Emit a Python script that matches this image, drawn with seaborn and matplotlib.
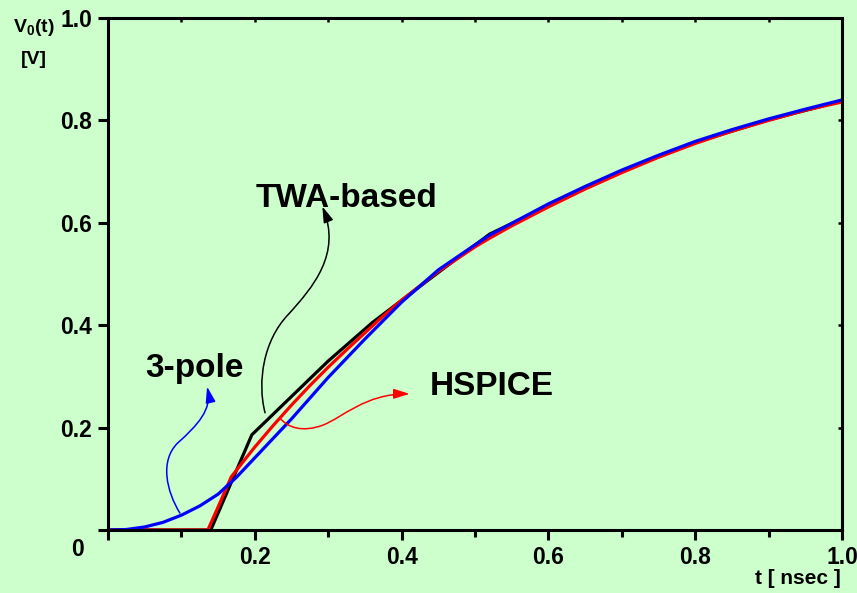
import matplotlib
matplotlib.use("Agg")
import matplotlib.pyplot as plt
import seaborn as sns
import pandas as pd
from matplotlib.path import Path
from matplotlib.patches import FancyArrowPatch

# HSPICE reference response
t_hspice = [0, 0.136, 0.15, 0.168, 0.185, 0.2, 0.225, 0.25, 0.275, 0.3, 0.325, 0.35,
            0.375, 0.4, 0.45, 0.5, 0.52, 0.55, 0.6, 0.65, 0.7, 0.75, 0.8, 0.85, 0.9,
            0.95, 1.0]
v_hspice = [0, 0, 0.045, 0.104, 0.135, 0.162, 0.204, 0.244, 0.282, 0.318, 0.352, 0.385,
            0.418, 0.449, 0.505, 0.553, 0.57, 0.594, 0.631, 0.666, 0.698, 0.728, 0.755,
            0.779, 0.8, 0.82, 0.836]

# 3-pole approximation
t_pole = [0, 0.025, 0.05, 0.075, 0.1, 0.125, 0.15, 0.175, 0.2, 0.25, 0.3, 0.35, 0.4,
          0.45, 0.5, 0.52, 0.55, 0.6, 0.65, 0.7, 0.75, 0.8, 0.85, 0.9, 0.95, 1.0]
v_pole = [0, 0.001, 0.006, 0.015, 0.029, 0.047, 0.07, 0.103, 0.141, 0.217, 0.298, 0.373,
          0.445, 0.508, 0.557, 0.576, 0.599, 0.637, 0.671, 0.703, 0.732, 0.759, 0.782,
          0.803, 0.822, 0.84]

# TWA-based (piecewise linear)
t_twa = [0, 0.14, 0.196, 0.3, 0.36, 0.45, 0.52, 0.6, 0.7, 0.8, 0.9, 1.0]
v_twa = [0, 0, 0.186, 0.33, 0.405, 0.503, 0.578, 0.633, 0.701, 0.757, 0.801, 0.838]

x_ticks = [0.2, 0.4, 0.6, 0.8, 1.0]
y_ticks = [0.2, 0.4, 0.6, 0.8, 1.0]

bg = "#ccffcc"

sns.set_style("ticks")
plt.rcParams["font.family"] = ["Liberation Sans", "DejaVu Sans"]
plt.rcParams["font.weight"] = "bold"
plt.rcParams["text.color"] = "black"
plt.rcParams["xtick.color"] = "black"
plt.rcParams["ytick.color"] = "black"
plt.rcParams["mathtext.fontset"] = "custom"
plt.rcParams["mathtext.rm"] = "Liberation Sans:bold"
plt.rcParams["mathtext.bf"] = "Liberation Sans:bold"

fig = plt.figure(figsize=(8.57, 5.93), dpi=100, facecolor=bg)
ax = fig.add_axes([0.126, 0.1062, 0.8565, 0.8634])
ax.set_facecolor(bg)

df_twa = pd.DataFrame({"t": t_twa, "v": v_twa})
df_hspice = pd.DataFrame({"t": t_hspice, "v": v_hspice})
df_pole = pd.DataFrame({"t": t_pole, "v": v_pole})

sns.lineplot(data=df_twa, x="t", y="v", color="black", lw=2.3, ax=ax, sort=False)
sns.lineplot(data=df_hspice, x="t", y="v", color="#ff0000", lw=2.3, ax=ax, sort=False)
sns.lineplot(data=df_pole, x="t", y="v", color="#0000ff", lw=2.3, ax=ax, sort=False)

ax.set_xlim(0, 1.0)
ax.set_ylim(0, 1.0)
ax.set_xlabel("")
ax.set_ylabel("")

for side in ["left", "right", "top", "bottom"]:
    ax.spines[side].set_visible(True)
    ax.spines[side].set_linewidth(2.2)
    ax.spines[side].set_color("black")

# bottom / left: outward ticks with labels
ax.set_xticks([0] + x_ticks)
ax.set_xticklabels([""] + ["%.1f" % v for v in x_ticks])
ax.set_xticks([0.1, 0.3, 0.5, 0.7, 0.9], minor=True)
ax.set_yticks([0] + y_ticks)
ax.set_yticklabels([""] + ["%.1f" % v for v in y_ticks])
ax.tick_params(axis="both", which="major", direction="out", length=7.5, width=2.2,
               labelsize=16.5, pad=4, colors="black")
ax.tick_params(axis="x", which="minor", direction="out", length=5, width=2.2)

# top / right: short inward ticks
ax_top = ax.secondary_xaxis("top")
ax_top.set_xticks([0.1 * i for i in range(1, 10)])
ax_top.set_xticklabels([])
ax_top.tick_params(direction="in", length=3, width=1.8)
ax_top.spines["top"].set_visible(False)
ax_right = ax.secondary_yaxis("right")
ax_right.set_yticks([0.2, 0.4, 0.6, 0.8])
ax_right.set_yticklabels([])
ax_right.tick_params(direction="in", length=3, width=1.8)
ax_right.spines["right"].set_visible(False)

# origin label and axis titles
fig.text(77 / 857, 1 - 549 / 593, "0", fontsize=16.5, fontweight="bold",
         ha="center", va="center")
fig.text(34 / 857, 1 - 28 / 593, r"V$_0$(t)", fontsize=14, fontweight="bold",
         ha="center", va="center")
fig.text(34 / 857, 1 - 60 / 593, "[V]", fontsize=14, fontweight="bold",
         ha="center", va="center")
fig.text(841 / 857, 1 - 578 / 593, "t [ nsec ]", fontsize=15, fontweight="bold",
         ha="right", va="center")

# curve labels
ax.text(0.2016, 0.631, "TWA-based", fontsize=24, fontweight="bold", ha="left", va="baseline")
ax.text(0.4387, 0.264, "HSPICE", fontsize=24, fontweight="bold", ha="left", va="baseline")
ax.text(0.0504, 0.299, "3-pole", fontsize=24, fontweight="bold", ha="left", va="baseline")

# curvy pointer arrows
C4 = Path.CURVE4
arrows = [
    ("#0000ff", [(0.098, 0.033), (0.080, 0.075), (0.070, 0.135), (0.095, 0.17),
                 (0.122, 0.205), (0.142, 0.235), (0.135, 0.28)]),
    ("black", [(0.214, 0.229), (0.203, 0.29), (0.212, 0.37), (0.245, 0.42),
               (0.28, 0.475), (0.318, 0.54), (0.292, 0.632)]),
    ("#ff0000", [(0.234, 0.219), (0.245, 0.2), (0.265, 0.19), (0.293, 0.205),
                 (0.32, 0.22), (0.35, 0.266), (0.411, 0.266)]),
]
for color, verts in arrows:
    path = Path(verts, [Path.MOVETO, C4, C4, C4, C4, C4, C4])
    arr = FancyArrowPatch(path=path, arrowstyle="-|>,head_length=0.8,head_width=0.25",
                          mutation_scale=12, color=color, lw=1.1, zorder=5)
    ax.add_patch(arr)

plt.savefig("out.png", dpi=100, facecolor=bg)
